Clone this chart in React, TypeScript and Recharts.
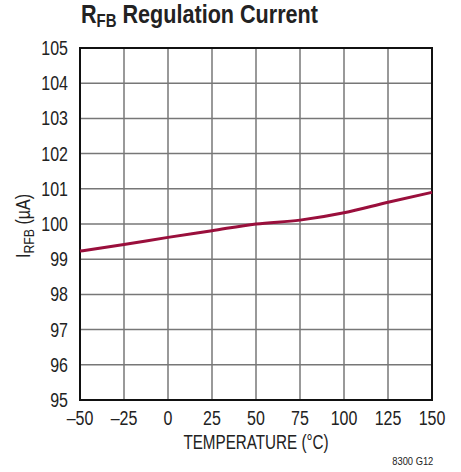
import React from "react";
import {
  LineChart,
  Line,
  XAxis,
  YAxis,
  CartesianGrid,
  ReferenceArea,
} from "recharts";

const temps = [-50, -25, 0, 25, 50, 75, 100, 125, 150];
const current = [99.23, 99.42, 99.62, 99.81, 100.0, 100.11, 100.32, 100.62, 100.9];
const xTicks = [-50, -25, 0, 25, 50, 75, 100, 125, 150];
const yTicks = [95, 96, 97, 98, 99, 100, 101, 102, 103, 104, 105];

const data = temps.map((t, i) => ({ t, i: current[i] }));

const FONT = "'Liberation Sans', Arial, sans-serif";
const TEXT = "#222";
const SQUEEZE = 0.82;

const fmtX = (v: number) => (v < 0 ? "\u2013" + Math.abs(v) : String(v));

// condensed tick text: scale horizontally around the anchor point
function XTick(props: any) {
  const { x, y, payload } = props;
  return (
    <g transform={`translate(${x},${y})`}>
      <text
        transform={`scale(${SQUEEZE},1)`}
        textAnchor="middle"
        dy={15}
        fontSize={19.5}
        fill={TEXT}
        fontFamily={FONT}
      >
        {fmtX(payload.value)}
      </text>
    </g>
  );
}

function YTick(props: any) {
  const { x, y, payload } = props;
  return (
    <g transform={`translate(${x},${y})`}>
      <text
        transform={`scale(${SQUEEZE},1)`}
        textAnchor="end"
        dy={7}
        fontSize={19.5}
        fill={TEXT}
        fontFamily={FONT}
      >
        {payload.value}
      </text>
    </g>
  );
}

export default function App() {
  return (
    <div
      style={{
        position: "absolute",
        left: 0,
        top: 0,
        width: 461,
        height: 472,
        background: "#fff",
        fontFamily: FONT,
        color: TEXT,
      }}
    >
      <div
        style={{
          position: "absolute",
          left: 81,
          top: -1,
          fontSize: 26,
          fontWeight: "bold",
          whiteSpace: "nowrap",
          transform: "scaleX(0.83)",
          transformOrigin: "left center",
        }}
      >
        R<sub style={{ fontSize: 18, verticalAlign: -4 }}>FB</sub> Regulation Current
      </div>
      <LineChart
        width={461}
        height={472}
        data={data}
        margin={{ top: 48, right: 29, bottom: 44, left: 0 }}
      >
        <CartesianGrid stroke="#777" strokeWidth={1.5} />
        <XAxis
          dataKey="t"
          type="number"
          domain={[-50, 150]}
          ticks={xTicks}
          tick={<XTick />}
          tickLine={false}
          axisLine={false}
          height={28}
          tickMargin={4}
        />
        <YAxis
          type="number"
          domain={[95, 105]}
          ticks={yTicks}
          tick={<YTick />}
          tickLine={false}
          axisLine={false}
          width={80}
          interval={0}
          tickMargin={6}
        />
        <ReferenceArea
          x1={-50}
          x2={150}
          y1={95}
          y2={105}
          fill="none"
          stroke="#111"
          strokeWidth={2}
          ifOverflow="visible"
        />
        <Line
          type="monotone"
          dataKey="i"
          stroke="#9a0f3c"
          strokeWidth={3}
          dot={false}
          isAnimationActive={false}
        />
      </LineChart>
      <div
        style={{
          position: "absolute",
          left: 256,
          top: 431,
          fontSize: 19.5,
          whiteSpace: "nowrap",
          transform: "translateX(-50%) scaleX(0.78)",
        }}
      >
        TEMPERATURE (°C)
      </div>
      <div
        style={{
          position: "absolute",
          left: 24,
          top: 226,
          transform: "translate(-50%, -50%) rotate(-90deg) scaleX(0.82)",
          fontSize: 19.5,
          whiteSpace: "nowrap",
        }}
      >
        I<sub style={{ fontSize: 15, verticalAlign: -4 }}>RFB</sub> (µA)
      </div>
      <div
        style={{
          position: "absolute",
          right: 28,
          top: 455,
          fontSize: 11,
          whiteSpace: "nowrap",
          transform: "scaleX(0.85)",
          transformOrigin: "right center",
        }}
      >
        8300 G12
      </div>
    </div>
  );
}
